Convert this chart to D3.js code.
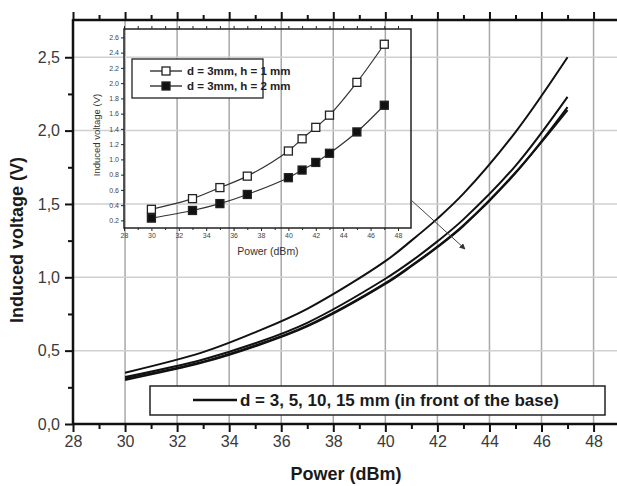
<!DOCTYPE html>
<html>
<head>
<meta charset="utf-8">
<script src="https://cdn.jsdelivr.net/npm/d3@7"></script>
<style>
  body { margin: 0; background: #fff; }
  svg { display: block; font-family: "Liberation Sans", Arial, sans-serif; }
</style>
</head>
<body>
<div class="chart"></div>
<script>
// Induced voltage vs power chart with inset
var svgWidth = 617;
var svgHeight = 486;

// main chart data (4 distances, two lines almost on top of each other)
var power = [30, 33, 35, 37, 40, 41, 42, 43, 45, 47];
var mainD3 = [0.35, 0.49, 0.625, 0.785, 1.11, 1.25, 1.40, 1.57, 1.99, 2.50];
var mainD5 = [0.32, 0.44, 0.55, 0.69, 0.99, 1.11, 1.245, 1.395, 1.76, 2.23];
var mainD10 = [0.30, 0.42, 0.53, 0.665, 0.955, 1.075, 1.205, 1.35, 1.71, 2.16];
var mainD15 = [0.31, 0.425, 0.535, 0.67, 0.96, 1.08, 1.21, 1.355, 1.715, 2.14];
var mainLegend = "d = 3, 5, 10, 15 mm (in front of the base)";

// inset data
var insetH1 = [0.345, 0.485, 0.63, 0.78, 1.11, 1.27, 1.42, 1.58, 2.01, 2.51];
var insetH2 = [0.23, 0.33, 0.42, 0.54, 0.76, 0.86, 0.96, 1.08, 1.36, 1.71];
var insetLabels = ["d = 3mm, h = 1 mm", "d = 3mm, h = 2 mm"];

var mainXTicks = d3.range(28, 49, 2);
var mainYTicks = [0, 0.5, 1, 1.5, 2, 2.5];
var insetXTicks = d3.range(28, 49, 2);
var insetYTicks = d3.range(0.2, 2.61, 0.2);

var svg = d3.select(".chart")
  .append("svg")
  .attr("width", svgWidth)
  .attr("height", svgHeight);

// Scales
var x = d3.scaleLinear().domain([28, 48.9]).range([73, 617]);
var y = d3.scaleLinear().domain([0, 2.754]).range([424, 20]);

var ix = d3.scaleLinear().domain([28, 48.95]).range([124, 411]);
var iy = d3.scaleLinear().domain([0.1, 2.71]).range([228, 29]);

// Gridlines
svg.append("g").selectAll("line")
  .data(mainXTicks.slice(1))
  .enter().append("line")
  .attr("x1", d => x(d)).attr("x2", d => x(d))
  .attr("y1", y(0)).attr("y2", y(2.754))
  .attr("stroke", "#a8a8a8")
  .attr("stroke-width", 1.5);

svg.append("g").selectAll("line")
  .data(mainYTicks.slice(1))
  .enter().append("line")
  .attr("x1", x(28)).attr("x2", x(48.9))
  .attr("y1", d => y(d)).attr("y2", d => y(d))
  .attr("stroke", "#d0d0d0")
  .attr("stroke-width", 1.5);

var commaFmt = d => d3.format(".1f")(d).replace(".", ",");

// Main axes
var bottomAxis = d3.axisBottom(x).tickValues(mainXTicks).tickSize(8).tickPadding(4).tickFormat(d3.format("d"));
var bottomMinor = d3.axisBottom(x).tickValues(d3.range(29, 49, 2)).tickSize(5).tickFormat("");
var topMajor = d3.axisTop(x).tickValues(mainXTicks).tickSize(8).tickFormat("");
var topMinor = d3.axisTop(x).tickValues(d3.range(29, 49, 2)).tickSize(5).tickFormat("");
var leftAxis = d3.axisLeft(y).tickValues(mainYTicks).tickSize(8).tickPadding(5).tickFormat(commaFmt);
var leftMinor = d3.axisLeft(y).tickValues([0.25, 0.75, 1.25, 1.75, 2.25]).tickSize(5).tickFormat("");

function styleAxis(g, fs) {
  g.select(".domain").remove();
  g.selectAll(".tick line").attr("stroke", "#111").attr("stroke-width", 2);
  g.selectAll(".tick text").attr("fill", "#3a3a3a").style("font-size", fs + "px");
}

svg.append("g").attr("transform", `translate(0, ${y(0)})`).call(bottomAxis).call(g => styleAxis(g, 16));
svg.append("g").attr("transform", `translate(0, ${y(0)})`).call(bottomMinor).call(g => styleAxis(g, 16));
svg.append("g").attr("transform", `translate(0, ${y(2.754)})`).call(topMajor).call(g => styleAxis(g, 16));
svg.append("g").attr("transform", `translate(0, ${y(2.754)})`).call(topMinor).call(g => styleAxis(g, 16));
svg.append("g").attr("transform", `translate(${x(28)}, 0)`).call(leftAxis).call(g => styleAxis(g, 16));
svg.append("g").attr("transform", `translate(${x(28)}, 0)`).call(leftMinor).call(g => styleAxis(g, 16));

// frame lines
svg.append("line").attr("x1", x(28)).attr("x2", x(48.9)).attr("y1", y(0)).attr("y2", y(0))
  .attr("stroke", "#111").attr("stroke-width", 2.5);
svg.append("line").attr("x1", x(28)).attr("x2", x(48.9)).attr("y1", y(2.754)).attr("y2", y(2.754))
  .attr("stroke", "#111").attr("stroke-width", 2.5);
svg.append("line").attr("x1", x(28)).attr("x2", x(28)).attr("y1", y(0) + 1).attr("y2", y(2.754) - 1)
  .attr("stroke", "#111").attr("stroke-width", 2.5);

// Main curves
var mainLine = d3.line()
  .x((d, i) => x(power[i]))
  .y(d => y(d))
  .curve(d3.curveCatmullRom.alpha(0.5));

[mainD3, mainD5, mainD10, mainD15].forEach(function (s) {
  svg.append("path")
    .attr("d", mainLine(s))
    .attr("fill", "none")
    .attr("stroke", "#111")
    .attr("stroke-width", 2);
});

// Axis titles
svg.append("text")
  .attr("transform", `translate(23, 240) rotate(-90)`)
  .attr("text-anchor", "middle")
  .style("font-size", "18px")
  .style("font-weight", "bold")
  .attr("fill", "#1a1a1a")
  .text("Induced voltage (V)");

svg.append("text")
  .attr("x", 346)
  .attr("y", 480)
  .attr("text-anchor", "middle")
  .style("font-size", "18px")
  .style("font-weight", "bold")
  .attr("fill", "#1a1a1a")
  .text("Power (dBm)");

// Main legend
svg.append("rect")
  .attr("x", 150).attr("y", 386)
  .attr("width", 455).attr("height", 29)
  .attr("fill", "#fff")
  .attr("stroke", "#222")
  .attr("stroke-width", 1.5);
svg.append("line")
  .attr("x1", 193).attr("x2", 237).attr("y1", 400).attr("y2", 400)
  .attr("stroke", "#111").attr("stroke-width", 2.5);
svg.append("text")
  .attr("x", 240).attr("y", 406)
  .style("font-size", "17px")
  .style("font-weight", "bold")
  .attr("fill", "#1a1a1a")
  .text(mainLegend);

// ----- Inset -----
var inset = svg.append("g");

var ixBottom = d3.axisBottom(ix).tickValues(insetXTicks).tickSize(3).tickPadding(2).tickFormat(d3.format("d"));
var ixBottomMinor = d3.axisBottom(ix).tickValues(d3.range(29, 49, 2)).tickSize(2).tickFormat("");
var ixTop = d3.axisTop(ix).tickValues(d3.range(28, 49, 1)).tickSize(3).tickFormat("");
var iyLeft = d3.axisLeft(iy).tickValues(insetYTicks).tickSize(3).tickPadding(2).tickFormat(d3.format(".1f"));

function styleInset(g) {
  g.select(".domain").remove();
  g.selectAll(".tick line").attr("stroke", "#222").attr("stroke-width", 1);
  g.selectAll(".tick text").attr("fill", "#444").style("font-size", "7px");
}

inset.append("g").attr("transform", `translate(0, ${iy(0.1)})`).call(ixBottom).call(styleInset);
inset.append("g").attr("transform", `translate(0, ${iy(0.1)})`).call(ixBottomMinor).call(styleInset);
inset.append("g").attr("transform", `translate(0, ${iy(2.71)})`).call(ixTop).call(styleInset);
inset.append("g").attr("transform", `translate(${ix(28)}, 0)`).call(iyLeft).call(styleInset);

inset.append("rect")
  .attr("x", ix(28)).attr("y", iy(2.71))
  .attr("width", ix(48.95) - ix(28))
  .attr("height", iy(0.1) - iy(2.71))
  .attr("fill", "none")
  .attr("stroke", "#222")
  .attr("stroke-width", 1.5);

var insetLine = d3.line()
  .x((d, i) => ix(power[i]))
  .y(d => iy(d))
  .curve(d3.curveCatmullRom.alpha(0.5));

[insetH1, insetH2].forEach(function (s, k) {
  inset.append("path")
    .attr("d", insetLine(s))
    .attr("fill", "none")
    .attr("stroke", "#333")
    .attr("stroke-width", 1.2);
  inset.selectAll(null)
    .data(s)
    .enter().append("rect")
    .attr("x", (d, i) => ix(power[i]) - 4)
    .attr("y", d => iy(d) - 4)
    .attr("width", 8).attr("height", 8)
    .attr("fill", k === 0 ? "#fff" : "#111")
    .attr("stroke", "#222")
    .attr("stroke-width", 1.3);
});

// inset titles
inset.append("text")
  .attr("transform", `translate(100, 135) rotate(-90)`)
  .attr("text-anchor", "middle")
  .style("font-size", "9.5px")
  .attr("fill", "#333")
  .text("Induced voltage (V)");
inset.append("text")
  .attr("x", 268).attr("y", 255)
  .attr("text-anchor", "middle")
  .style("font-size", "10.5px")
  .attr("fill", "#333")
  .text("Power (dBm)");

// inset legend
inset.append("rect")
  .attr("x", 132).attr("y", 59)
  .attr("width", 131).attr("height", 39)
  .attr("fill", "#fff")
  .attr("stroke", "#222")
  .attr("stroke-width", 1.3);
insetLabels.forEach(function (lab, k) {
  var ly = 71 + k * 15;
  inset.append("line")
    .attr("x1", 150).attr("x2", 182).attr("y1", ly).attr("y2", ly)
    .attr("stroke", "#222").attr("stroke-width", 1.3);
  inset.append("rect")
    .attr("x", 162).attr("y", ly - 4)
    .attr("width", 8).attr("height", 8)
    .attr("fill", k === 0 ? "#fff" : "#111")
    .attr("stroke", "#222").attr("stroke-width", 1.3);
  inset.append("text")
    .attr("x", 187).attr("y", ly + 4)
    .style("font-size", "11.5px")
    .style("font-weight", "bold")
    .attr("fill", "#222")
    .text(lab);
});

// arrow from inset to main curves
svg.append("defs").append("marker")
  .attr("id", "arr")
  .attr("viewBox", "0 0 10 10")
  .attr("refX", 9).attr("refY", 5)
  .attr("markerWidth", 6).attr("markerHeight", 6)
  .attr("orient", "auto")
  .append("path")
  .attr("d", "M0,0 L10,5 L0,10 z")
  .attr("fill", "#333");
svg.append("line")
  .attr("x1", 411).attr("y1", 200)
  .attr("x2", 465).attr("y2", 249)
  .attr("stroke", "#444")
  .attr("stroke-width", 1)
  .attr("marker-end", "url(#arr)");
</script>
</body>
</html>
